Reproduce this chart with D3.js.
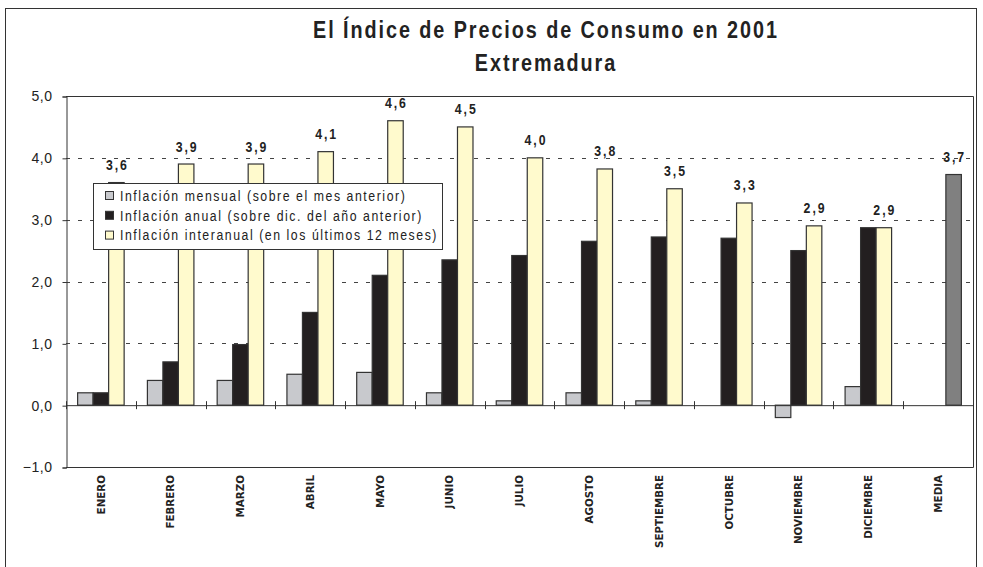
<!DOCTYPE html>
<html><head><meta charset="utf-8">
<script src="https://cdnjs.cloudflare.com/ajax/libs/d3/7.8.5/d3.min.js"></script>
<style>
html,body{margin:0;padding:0;background:#fff;}
svg{display:block;}
</style></head>
<body><svg id="chart" width="983" height="567"></svg>
<script>
const categories = ["ENERO","FEBRERO","MARZO","ABRIL","MAYO","JUNIO","JULIO","AGOSTO","SEPTIEMBRE","OCTUBRE","NOVIEMBRE","DICIEMBRE","MEDIA"];
const mensual   = [0.2, 0.4, 0.4, 0.5, 0.53, 0.2, 0.07, 0.2, 0.07, 0.0, -0.2, 0.3, null];
const anual     = [0.2, 0.7, 0.98, 1.5, 2.1, 2.35, 2.42, 2.65, 2.72, 2.7, 2.5, 2.87, null];
const interanual= [3.6, 3.9, 3.9, 4.1, 4.6, 4.5, 4.0, 3.82, 3.5, 3.27, 2.9, 2.87, 3.73];
const seriesNames = ["Inflación mensual (sobre el mes anterior)","Inflación anual (sobre dic. del año anterior)","Inflación interanual (en los últimos 12 meses)"];
const yTicks = [-1,0,1,2,3,4,5];
const titleLines = ["El Índice de Precios de Consumo en 2001","Extremadura"];

const FONT = "'Liberation Sans', Arial, sans-serif";
const SX = 0.82; // narrow look
const svg = d3.select("#chart");
const colors = ["#c8c9cd","#231f20","#fffacd"];
const mediaColor = "#808080";
const plot = {left:66, right:973, top:96, bottom:467};

function narrow(sel, sx){
  sx = sx || SX;
  sel.each(function(){
    const t=d3.select(this); const x=+t.attr("x")||0, y=+t.attr("y")||0;
    t.attr("x",0).attr("y",0).attr("transform",`translate(${x},${y}) scale(${sx},1)`);
  });
}
function spacingFor(size, weight, refText, targetW, sx){
  sx = sx || SX;
  const t = svg.append("text").attr("font-family",FONT)
    .attr("font-size",size).attr("font-weight",weight).text(refText);
  const w = t.node().getComputedTextLength(); t.remove();
  return Math.max(0,(targetW/sx - w)/(refText.length-1));
}

// outer border
svg.append("rect").attr("x",5.5).attr("y",8.5).attr("width",971).attr("height",600)
  .attr("fill","none").attr("stroke","#333").attr("stroke-width",1);

// title
const TSX = 0.86;
const tls = spacingFor(23, "bold", titleLines[0], 464, TSX);
svg.append("g").attr("font-family",FONT).attr("font-size",23).attr("font-weight","bold")
  .selectAll("text").data(titleLines).join("text")
  .attr("x",545+tls*TSX/2).attr("y",(d,i)=>38+i*33)
  .attr("text-anchor","middle").attr("letter-spacing",tls).attr("fill","#222").text(d=>d)
  .call(narrow, TSX);

const y = d3.scaleLinear().domain([-1,5]).range([plot.bottom, plot.top]);
const x = d3.scaleBand().domain(categories).range([plot.left, plot.right]).paddingInner(1/3).paddingOuter(1/6);
const xs = d3.scaleBand().domain([0,1,2]).range([0, x.bandwidth()]).padding(0);

// gridlines
svg.append("g").selectAll("line").data(yTicks.filter(v=>v>0 && v<5)).join("line")
  .attr("x1",plot.left).attr("x2",plot.right).attr("y1",d=>Math.round(y(d))+0.5).attr("y2",d=>Math.round(y(d))+0.5)
  .attr("stroke","#444").attr("stroke-width",1).attr("stroke-dasharray","4,8");

// plot border (top,right,bottom)
svg.append("path").attr("d",`M${plot.left},${y(5)+0.5}H${plot.right+0.5}V${y(-1)+0.5}H${plot.left}`)
  .attr("fill","none").attr("stroke","#333").attr("stroke-width",1);

// y axis
const yAxis = d3.axisLeft(y).tickValues(yTicks).tickSize(4).tickPadding(10)
  .tickFormat(d=>d3.format(".1f")(d).replace(".",","));
const ya = svg.append("g").attr("transform",`translate(${plot.left+0.5},0.5)`).call(yAxis);
ya.attr("font-family",FONT).attr("font-size",14);
ya.selectAll("path,line").attr("stroke","#333");
const yls = spacingFor(14, "normal", "4,0", 20.5, 1);
ya.selectAll(".tick text").attr("fill","#222").attr("letter-spacing",yls);

// bars
const series = [mensual, anual, interanual];
series.forEach((vals, si)=>{
  svg.append("g").selectAll("rect").data(categories.map((c,i)=>({c, v:vals[i]})).filter(d=>d.v!==null && d.v!==0)).join("rect")
    .attr("x",d=>x(d.c)+xs(si)).attr("width",xs.bandwidth())
    .attr("y",d=>y(Math.max(0,d.v))).attr("height",d=>Math.abs(y(d.v)-y(0)))
    .attr("fill",d=>(d.c==="MEDIA")?mediaColor:colors[si])
    .attr("stroke","#333").attr("stroke-width",1.2);
});

// zero line + category ticks
svg.append("line").attr("x1",plot.left).attr("x2",plot.right).attr("y1",y(0)+0.5).attr("y2",y(0)+0.5)
  .attr("stroke","#333").attr("stroke-width",1);
const bounds = categories.map((c,i)=>plot.left + i*x.step()).concat([plot.right]);
svg.append("g").selectAll("line").data(bounds).join("line")
  .attr("x1",d=>Math.round(d)+0.5).attr("x2",d=>Math.round(d)+0.5).attr("y1",y(0)-4).attr("y2",y(0)+4)
  .attr("stroke","#333");

// x labels
const xAxis = d3.axisBottom(x).tickSize(0).tickFormat(d=>d);
const xa = svg.append("g").attr("transform",`translate(0,${plot.bottom})`).call(xAxis);
xa.select(".domain").remove();
xa.attr("font-family","'DejaVu Sans',sans-serif").attr("font-size",10.3);
xa.selectAll(".tick text")
  .attr("font-weight","bold").attr("fill","#222")
  .attr("transform","rotate(-90)").attr("text-anchor","end").attr("x",-8).attr("y",0).attr("dy","0.36em");

// data labels (interanual)
const dls = spacingFor(15, "bold", "3,6", 21);
svg.append("g").attr("font-family",FONT).attr("font-size",15).attr("font-weight","bold")
  .selectAll("text").data(categories.map((c,i)=>({c,v:interanual[i]}))).join("text")
  .attr("x",d=>x(d.c)+xs(2)+xs.bandwidth()/2+dls*SX/2).attr("y",d=>y(d.v)-12.5)
  .attr("text-anchor","middle").attr("letter-spacing",dls)
  .attr("fill","#222").text(d=>d3.format(".1f")(d.v).replace(".",","))
  .call(narrow);

// legend
const lg = svg.append("g").attr("transform","translate(93.5,183.5)");
lg.append("rect").attr("width",349).attr("height",66).attr("fill","#fff").attr("stroke","#333");
const items = lg.selectAll("g").data(seriesNames).join("g").attr("transform",(d,i)=>`translate(0,${12+i*19.8})`);
items.append("rect").attr("x",12).attr("y",-4).attr("width",8).attr("height",8)
  .attr("fill",(d,i)=>colors[i]).attr("stroke","#333");
const lls = spacingFor(15, "normal", seriesNames[0], 285);
items.append("text").attr("font-family",FONT).attr("font-size",15).attr("x",26.5).attr("y",0)
  .attr("dy","0.35em").attr("letter-spacing",lls).attr("fill","#222").text(d=>d)
  .call(narrow);
</script></body></html>
